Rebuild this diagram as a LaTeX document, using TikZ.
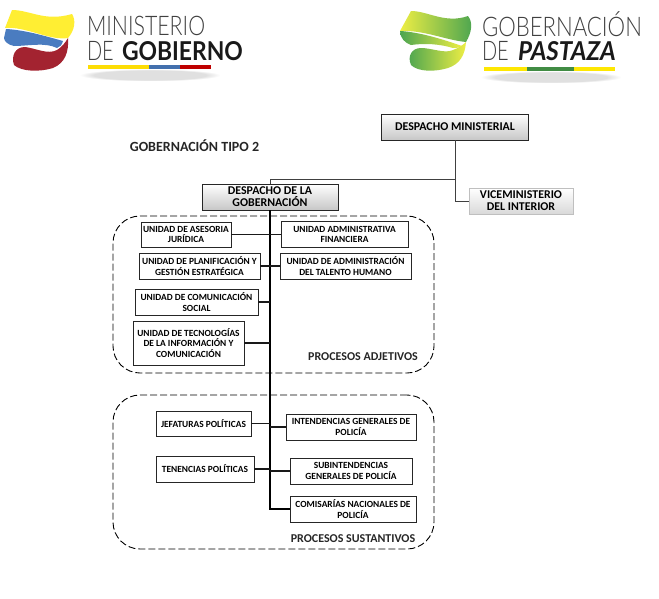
\documentclass[tikz,border=0pt]{standalone}
\usepackage{fontspec}
\setmainfont{Carlito}
\newfontfamily\logofont{Lato Light}
\newfontfamily\logobold{Lato}
\usetikzlibrary{positioning, fadings, shadows}

\definecolor{logoyellow}{HTML}{FFEE33}
\definecolor{logoblue}{HTML}{4A7CC0}
\definecolor{logored}{HTML}{A32330}
\definecolor{logogreen}{HTML}{4CA550}
\definecolor{limeyellow}{HTML}{EEEE44}

\begin{document}
\begin{tikzpicture}[
  x=1pt, y=-1pt,
  every node/.style={font=\bfseries\fontsize{9.4}{10.2}\selectfont, inner sep=0pt, outer sep=0pt, align=center},
  unitbox/.style={draw=black!85, line width=0.9pt, fill=white, drop shadow={shadow xshift=0.8pt, shadow yshift=-0.8pt, fill=black!35, opacity=0.6}},
  headbox/.style={draw=black!85, line width=0.9pt, top color=white, bottom color=black!22,
    font=\bfseries\fontsize{11.9}{12}\selectfont},
  vicebox/.style={draw=black!25, line width=1pt, top color=white, bottom color=black!15,
    font=\bfseries\fontsize{11.9}{12}\selectfont},
  groupbox/.style={draw=black, dash pattern=on 7pt off 3pt, line width=0.9pt, rounded corners=27pt},
  caption/.style={font=\bfseries\fontsize{12}{13}\selectfont, text=black!85},
  trunk/.style={line width=1.6pt, black},
  branch/.style={line width=1.3pt, black!90},
  topline/.style={line width=0.8pt, black!75},
  logotext/.style={font=\logofont\fontsize{27}{27}\selectfont, text=black!75, anchor=base west},
  logobig/.style={font=\logobold\bfseries\fontsize{26}{26}\selectfont, text=black!90, anchor=base west},
  barshadow/.style={fill=black!40, minimum width=140pt, minimum height=12pt, opacity=0.3,
    path fading=circle with fuzzy edge 20 percent}
]
  \useasboundingbox (0,0) rectangle (659,598);

  % logos
  \node[barshadow] (barshadowa) at (150,75) {};
  \node[barshadow] (barshadowb) at (551,77) {};

  \fill[logored] (68,38) .. controls (69,52) and (65,63) .. (53,68) .. controls (40,72) and (22,72) .. (14,65)
    .. controls (11,56) and (15,47) .. (25,47) .. controls (35,48) and (48,55) .. (57,50) .. controls (62,47) and (65,43) .. (68,38);
  \fill[logoblue] (6,29) .. controls (25,30) and (45,36) .. (63,41) .. controls (62,45) and (60,47) .. (57,48)
    .. controls (45,42) and (28,46) .. (14,46) .. controls (8,45) and (4,41) .. (4,38) -- cycle;
  \fill[logoyellow] (12,10) .. controls (30,10) and (45,22) .. (72,14) .. controls (76,20) and (75,30) .. (68,38)
    .. controls (50,41) and (25,26) .. (5,28) -- cycle;

  \node[logotext] (ministerio) at (87,35) {\scalebox{0.79}[1]{MINISTERIO}};
  \node[logotext] (dea) at (87,60) {\scalebox{0.74}[1]{DE}};
  \node[logobig] (gobierno) at (122,60) {\scalebox{0.88}[1]{GOBIERNO}};
  \fill[yellow!80!orange] (88,65) rectangle (149,69);
  \fill[logoblue!90!black] (149,65) rectangle (180,69);
  \fill[red!75!black] (180,65) rectangle (211,69);

  \path[left color=limeyellow, right color=logogreen] (411,11) .. controls (428,11) and (445,24) .. (468,16)
    .. controls (473,22) and (472,32) .. (466,42) .. controls (445,40) and (425,30) .. (400,31) -- cycle;
  \path[left color=logogreen, right color=limeyellow] (400,31) .. controls (420,32) and (445,40) .. (462,46)
    .. controls (458,48) and (456,48) .. (453,48) .. controls (440,44) and (425,43) .. (411,45)
    .. controls (405,43) and (400,38) .. (400,31) -- cycle;
  \path[left color=logogreen, right color=limeyellow] (466,42) .. controls (465,55) and (460,64) .. (448,68)
    .. controls (435,72) and (418,72) .. (411,65) .. controls (407,56) and (412,48) .. (421,48)
    .. controls (432,48) and (445,54) .. (453,50) .. controls (458,48) and (462,46) .. (466,42);

  \node[logotext] (gobernacionlogo) at (482,36) {\scalebox{0.82}[1]{GOBERNACIÓN}};
  \node[logotext] (deb) at (482,60) {\scalebox{0.74}[1]{DE}};
  \node[logobig, font=\logobold\bfseries\itshape\fontsize{26}{26}\selectfont] (pastaza) at (518,60) {\scalebox{0.93}[1]{PASTAZA}};
  \fill[yellow!90!orange] (484,67) rectangle (527,71);
  \fill[logogreen!85!black] (527,67) rectangle (574,71);
  \fill[yellow!90!orange] (574,67) rectangle (615,71);

  % groups
  \node[groupbox, minimum width=321pt, minimum height=157pt] (adjetivos) at (273.5,294.5) {};
  \node[groupbox, minimum width=321pt, minimum height=154pt] (sustantivos) at (273.5,472) {};
  \node[caption] (adjlabel) at (363,357) {PROCESOS ADJETIVOS};
  \node[caption] (suslabel) at (353,538.5) {PROCESOS SUSTANTIVOS};

  \node[caption, font=\bfseries\fontsize{14}{15}\selectfont] (tipo) at (194.5,145.5) {GOBERNACIÓN TIPO 2};

  % heads
  \node[headbox, minimum width=147pt, minimum height=26pt] (ministerial) at (455,127) {DESPACHO MINISTERIAL};
  \node[headbox, minimum width=136pt, minimum height=26pt, below=44pt of ministerial, xshift=-185pt] (gobernacion) {DESPACHO DE LA\\GOBERNACIÓN};
  \node[vicebox, minimum width=104pt, minimum height=26pt, right=131pt of gobernacion, yshift=-4pt] (vice) {VICEMINISTERIO\\DEL INTERIOR};
  \coordinate[below=39pt of ministerial] (fork);

  % adjetivos
  \node[unitbox, minimum width=90pt, minimum height=25pt, below=12pt of gobernacion, xshift=-84pt] (asesoria) {UNIDAD DE ASESORIA\\JURÍDICA};
  \node[unitbox, minimum width=127pt, minimum height=26pt, right=50pt of asesoria] (financiera) {UNIDAD ADMINISTRATIVA\\FINANCIERA};
  \node[unitbox, minimum width=121pt, minimum height=26pt, below=6pt of asesoria, xshift=13.5pt] (planificacion) {UNIDAD DE PLANIFICACIÓN Y\\GESTIÓN ESTRATÉGICA};
  \node[unitbox, minimum width=131pt, minimum height=26pt, right=20pt of planificacion] (talento) {UNIDAD DE ADMINISTRACIÓN\\DEL TALENTO HUMANO};
  \node[unitbox, minimum width=123pt, minimum height=26pt, below=10pt of planificacion, xshift=-3pt] (comunicacion) {UNIDAD DE COMUNICACIÓN\\SOCIAL};
  \node[unitbox, minimum width=111pt, minimum height=44pt, below=6pt of comunicacion, xshift=-8pt] (tecnologias) {UNIDAD DE TECNOLOGÍAS\\DE LA INFORMACIÓN Y\\COMUNICACIÓN};

  % sustantivos
  \node[unitbox, minimum width=95pt, minimum height=25pt] (jefaturas) at (203.5,423.5) {JEFATURAS POLÍTICAS};
  \node[unitbox, minimum width=130pt, minimum height=26pt, right=35pt of jefaturas, yshift=-3.5pt] (intendencias) {INTENDENCIAS GENERALES DE\\POLICÍA};
  \node[unitbox, minimum width=98pt, minimum height=26pt, below=20pt of jefaturas, xshift=1.5pt] (tenencias) {TENENCIAS POLÍTICAS};
  \node[unitbox, minimum width=122pt, minimum height=26pt, right=36pt of tenencias, yshift=-2pt] (subintendencias) {SUBINTENDENCIAS\\GENERALES DE POLICÍA};
  \node[unitbox, minimum width=126pt, minimum height=26pt, below=12pt of subintendencias, xshift=2pt] (comisarias) {COMISARÍAS NACIONALES DE\\POLICÍA};

  % connectors
  \draw[topline] (ministerial) -- (fork);
  \draw[topline] (fork) -| (gobernacion);
  \draw[topline] (fork) |- (vice);
  \draw[trunk] (gobernacion) |- (comisarias);
  \foreach \unit in {asesoria, financiera, planificacion, talento, comunicacion, tecnologias,
                     jefaturas, intendencias, tenencias, subintendencias}
    \draw[branch] (\unit) -- (\unit -| gobernacion);
\end{tikzpicture}
\end{document}
